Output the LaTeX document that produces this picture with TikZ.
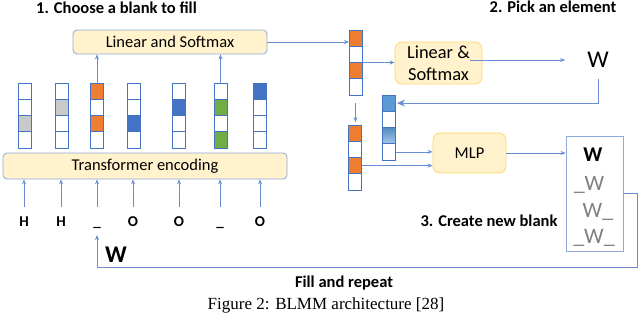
\documentclass[tikz,border=0pt]{standalone}
\usepackage{fontspec}
\setmainfont{Carlito}
\newfontfamily\capfont{Liberation Serif}
\usetikzlibrary{arrows.meta}
\definecolor{lblue}{HTML}{6A8ED4}
\definecolor{cellb}{HTML}{4472C4}
\definecolor{boxb}{HTML}{8EA9DB}
\definecolor{yfill}{HTML}{FFF2CC}
\definecolor{ybord}{HTML}{FFD966}
\definecolor{corange}{HTML}{ED7D31}
\definecolor{cblue}{HTML}{4472C4}
\definecolor{clblue}{HTML}{5B9BD5}
\definecolor{cgreen}{HTML}{70AD47}
\definecolor{cgray}{HTML}{C9C9C9}
\definecolor{gtext}{HTML}{7F7F7F}
\begin{document}
\begin{tikzpicture}[x=1pt,y=-1pt,
  cell/.style={draw=cellb, line width=0.8pt, minimum width=13pt, minimum height=16.25pt, inner sep=0pt, outer sep=0pt},
  conn/.style={draw=lblue, line width=0.7pt, -{Stealth[length=5pt,width=4pt]}},
  bluebox/.style={draw=boxb, fill=yfill, rounded corners=4pt, line width=0.8pt, inner sep=0pt, font=\fontsize{16.5}{19}\selectfont},
  yelbox/.style={draw=ybord, fill=yfill, rounded corners=7pt, line width=0.8pt, inner sep=0pt, align=center},
  title/.style={font=\bfseries\fontsize{16.5}{19}\selectfont, anchor=base, inner sep=0pt},
  token/.style={font=\bfseries\fontsize{15}{17}\selectfont, anchor=base, inner sep=2pt}
]
\useasboundingbox (0,0) rectangle (640,314);

% titles
\node[title] (t1title) at (116.5,13) {1. Choose a blank to fill};
\node[title] (t2title) at (553,12) {2. Pick an element};
\node[title] (t3title) at (489,226) {3. Create new blank};
\node[title] (t4title) at (344,287) {Fill and repeat};
\node[anchor=base, inner sep=0pt, font=\capfont\fontsize{17}{19}\selectfont] (cap) at (326,309) {Figure 2: BLMM architecture [28]};

% boxes
\node[bluebox, minimum width=194pt, minimum height=24pt] (lin) at (170,42) {Linear and Softmax};
\node[bluebox, minimum width=284pt, minimum height=26pt] (trans) at (145,166) {Transformer encoding};
\node[yelbox, minimum width=87pt, minimum height=42pt, font=\fontsize{18.4}{22}\selectfont] (lsm) at (438.5,63) {Linear \&\\Softmax};
\node[yelbox, minimum width=73pt, minimum height=40pt, font=\fontsize{16.5}{19}\selectfont] (mlp) at (469.5,153) {MLP};
\node[draw=boxb, line width=0.8pt, minimum width=57pt, minimum height=115pt, inner sep=0pt] (wbox) at (594.5,193.5) {};

% W list
\node[anchor=base, inner sep=0pt, font=\bfseries\fontsize{21}{24}\selectfont] (w0) at (593,161) {W};
\node[anchor=base east, inner sep=0pt, text=gtext, font=\fontsize{22}{26}\selectfont] (w1) at (604.5,190) {\textunderscore W};
\node[anchor=base west, inner sep=0pt, text=gtext, font=\fontsize{22}{26}\selectfont] (w2) at (582.5,217) {W\textunderscore};
\node[anchor=base, inner sep=0pt, text=gtext, font=\fontsize{22}{26}\selectfont] (w3) at (594,243) {\textunderscore W\textunderscore};

% left columns
\foreach \i/\x/\ca/\cb/\cc/\cd in {1/24.5/white/white/cgray/white, 2/61.5/white/cgray/white/white, 3/97/corange/white/corange/white, 4/133.5/white/white/cblue/white, 5/178.5/white/cblue/white/white, 6/220.5/white/cgreen/white/cgreen, 7/260/cblue/white/white/white}{
  \node[cell, fill=\ca] (c\i-1) at (\x,91.125) {};
  \node[cell, fill=\cb] (c\i-2) at (\x,107.375) {};
  \node[cell, fill=\cc] (c\i-3) at (\x,123.625) {};
  \node[cell, fill=\cd] (c\i-4) at (\x,139.875) {};
}

% right columns
\node[cell, fill=corange] (ra1) at (355.5,38.125) {};
\node[cell, fill=white] (ra2) at (355.5,54.375) {};
\node[cell, fill=corange] (ra3) at (355.5,70.625) {};
\node[cell, fill=white] (ra4) at (355.5,86.875) {};

\node[cell, fill=clblue] (rb1) at (388.5,103.125) {};
\node[cell, fill=white] (rb2) at (388.5,119.375) {};
\node[cell, top color=clblue!90!black, bottom color=clblue!55] (rb3) at (388.5,135.625) {};
\node[cell, fill=white] (rb4) at (388.5,151.875) {};

\node[cell, fill=corange] (rc1) at (355,133.125) {};
\node[cell, fill=white] (rc2) at (355,149.375) {};
\node[cell, fill=corange] (rc3) at (355,165.625) {};
\node[cell, fill=white] (rc4) at (355,181.875) {};

% top W
\node[inner sep=3pt, font=\fontsize{24}{28}\selectfont] (wt) at (598,60) {W};

% tokens
\foreach \i/\x/\s in {1/24/H, 2/61/H, 3/97/\textunderscore, 4/133/O, 5/179/O, 6/220/\textunderscore, 7/260/O}{
  \node[token] (tk\i) at (\x,226) {\s};
  \draw[conn] ([yshift=19pt]tk\i.base) -- (tk\i.base |- trans.south);
}

% big W
\node[anchor=base, inner sep=0pt, font=\bfseries\fontsize{24}{28}\selectfont] (wbig) at (116,262) {W};

% connectors
\draw[conn] (c3-1.north) -- (c3-1.north |- lin.south);
\draw[conn] (c6-1.north) -- (c6-1.north |- lin.south);
\draw[conn] (lin.east) -- (lin.east -| ra1.west);
\draw[conn] (ra3.north east) -- (ra3.north east -| lsm.west);
\draw[conn, shorten >=19pt] ([xshift=-12pt]lsm.east |- wt.west) -- (wt.west);
\draw[draw=lblue, line width=0.7pt, -{Stealth[length=8pt,width=7pt]}, shorten <=8pt, shorten >=2pt] (wt.south) |- (rb1.east);
\draw[conn, shorten <=8pt, shorten >=3pt] (ra4.south) -- (ra4.south |- rc1.north);
\draw[conn] (rb4.east) -- (rb4.east -| mlp.west);
\draw[conn] (rc3.east) -- (rc3.east -| mlp.west);
\draw[conn] (mlp.east) -- (mlp.east -| wbox.west);
\coordinate (fb) at (637,267);
\draw[conn, shorten >=9pt] (wbox.east) -| (fb) -| (tk3.base);
\end{tikzpicture}
\end{document}
